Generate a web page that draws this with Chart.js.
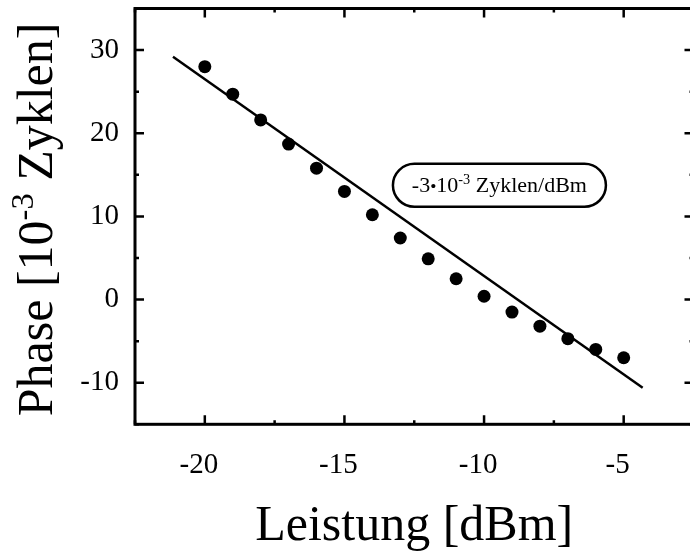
<!DOCTYPE html>
<html>
<head>
<meta charset="utf-8">
<script src="https://cdn.jsdelivr.net/npm/chart.js@4.4.0/dist/chart.umd.min.js"></script>
<style>
  html, body { margin: 0; padding: 0; background: #fff; overflow: hidden; }
  #wrap { width: 700px; height: 552px; }
</style>
</head>
<body>
<div id="wrap"><canvas id="phaseChart"></canvas></div>
<script>
// measured points
const leistung = [-20, -19, -18, -17, -16, -15, -14, -13, -12, -11, -10, -9, -8, -7, -6, -5];
const phase = [28.0, 24.7, 21.6, 18.7, 15.8, 13.0, 10.2, 7.4, 4.9, 2.5, 0.4, -1.5, -3.2, -4.7, -6.0, -7.0];

// fitted line (end points)
const fitX = [-21.14, -4.32];
const fitY = [29.2, -10.6];

// ticks
const xTicks = [-20, -15, -10, -5];
const xMinorTicks = [-22.5, -17.5, -12.5, -7.5, -2.5];
const yTicks = [30, 20, 10, 0, -10];
const yMinorTicks = [35, 25, 15, 5, -5, -15];

const serif = "'Liberation Serif', 'DejaVu Serif', serif";

// draws text pieces (some raised / smaller), centred on x
function drawRich(ctx, parts, x, y, size) {
    let total = 0;
    parts.forEach(p => {
        ctx.font = (size * (p.scale || 1)) + "px " + serif;
        p.w = ctx.measureText(p.t).width;
        total += p.w;
    });
    let cx = x - total / 2;
    ctx.textAlign = "left";
    ctx.textBaseline = "alphabetic";
    parts.forEach(p => {
        ctx.font = (size * (p.scale || 1)) + "px " + serif;
        ctx.fillText(p.t, cx, y - size * (p.rise || 0));
        cx += p.w;
    });
    return total;
}

const framePlugin = {
    id: "frame",
    afterDraw(chart) {
        const ctx = chart.ctx;
        const a = chart.chartArea;
        const xs = chart.scales.x;
        const ys = chart.scales.y;
        ctx.save();
        ctx.strokeStyle = "#000";
        ctx.fillStyle = "#000";
        ctx.lineWidth = 3;
        ctx.strokeRect(a.left, a.top, a.right - a.left, a.bottom - a.top);

        // inward ticks on all four sides
        ctx.lineWidth = 2.5;
        function xt(v, len) {
            const px = xs.getPixelForValue(v);
            ctx.beginPath();
            ctx.moveTo(px, a.bottom); ctx.lineTo(px, a.bottom - len);
            ctx.moveTo(px, a.top); ctx.lineTo(px, a.top + len);
            ctx.stroke();
        }
        function yt(v, len) {
            const py = ys.getPixelForValue(v);
            ctx.beginPath();
            ctx.moveTo(a.left, py); ctx.lineTo(a.left + len, py);
            ctx.moveTo(a.right, py); ctx.lineTo(a.right - len, py);
            ctx.stroke();
        }
        xTicks.forEach(v => xt(v, 9));
        xMinorTicks.forEach(v => xt(v, 4));
        yTicks.forEach(v => yt(v, 9));
        yMinorTicks.forEach(v => yt(v, 4));

        // axis titles
        const midX = (a.left + a.right) / 2;
        const midY = (a.top + a.bottom) / 2;
        drawRich(ctx, [{ t: "Leistung [dBm]" }], midX, 540, 50);
        ctx.save();
        ctx.translate(52, midY + 3);
        ctx.rotate(-Math.PI / 2);
        drawRich(ctx, [{ t: "Phase [10" }, { t: "-3", scale: 0.65, rise: 0.38 }, { t: " Zyklen]" }], 0, 0, 50);
        ctx.restore();

        // slope label in a rounded box
        const bx = xs.getPixelForValue(-9.45);
        const by = ys.getPixelForValue(13.74);
        const bw = 213, bh = 43, r = bh / 2;
        ctx.lineWidth = 2.5;
        ctx.beginPath();
        ctx.roundRect(bx - bw / 2, by - bh / 2, bw, bh, r);
        ctx.fillStyle = "#fff";
        ctx.fill();
        ctx.stroke();
        ctx.fillStyle = "#000";
        drawRich(ctx, [
            { t: "-3" },
            { t: "\u2022", scale: 0.8, rise: 0.03 },
            { t: "10" },
            { t: "-3", scale: 0.65, rise: 0.38 },
            { t: " Zyklen/dBm" }
        ], bx, by + 7, 22);
        ctx.restore();
    }
};

function noPad(s) {
    s.paddingLeft = 0; s.paddingRight = 0;
    s.paddingTop = 0; s.paddingBottom = 0;
}

const ctx = document.getElementById("phaseChart").getContext("2d");

new Chart(ctx, {
    type: "scatter",
    data: {
        datasets: [{
            label: "Messung",
            data: leistung.map((x, i) => ({ x: x, y: phase[i] })),
            backgroundColor: "#000",
            borderWidth: 0,
            pointRadius: 6.5,
            pointHoverRadius: 6.5
        }, {
            type: "line",
            label: "Fit",
            data: fitX.map((x, i) => ({ x: x, y: fitY[i] })),
            borderColor: "#000",
            borderWidth: 2.5,
            pointRadius: 0,
            fill: false
        }]
    },
    options: {
        responsive: true,
        maintainAspectRatio: false,
        animation: false,
        layout: { padding: { top: 8.5, right: 5, left: 0, bottom: 0 } },
        scales: {
            x: {
                type: "linear",
                min: -22.5,
                max: -2.5,
                grid: { display: false },
                border: { display: false },
                afterBuildTicks: s => { s.ticks = xTicks.map(v => ({ value: v })); },
                afterFit: s => { s.height = 127.7; noPad(s); },
                ticks: {
                    color: "#000",
                    font: { family: serif, size: 29 },
                    padding: 16,
                    labelOffset: -6,
                    maxRotation: 0,
                    autoSkip: false
                }
            },
            y: {
                min: -15,
                max: 35,
                grid: { display: false },
                border: { display: false },
                afterBuildTicks: s => { s.ticks = yTicks.map(v => ({ value: v })); },
                afterFit: s => { s.width = 135; noPad(s); },
                ticks: {
                    color: "#000",
                    font: { family: serif, size: 29 },
                    padding: 8
                }
            }
        },
        plugins: {
            legend: { display: false },
            tooltip: { enabled: false }
        }
    },
    plugins: [framePlugin]
});
</script>
</body>
</html>
